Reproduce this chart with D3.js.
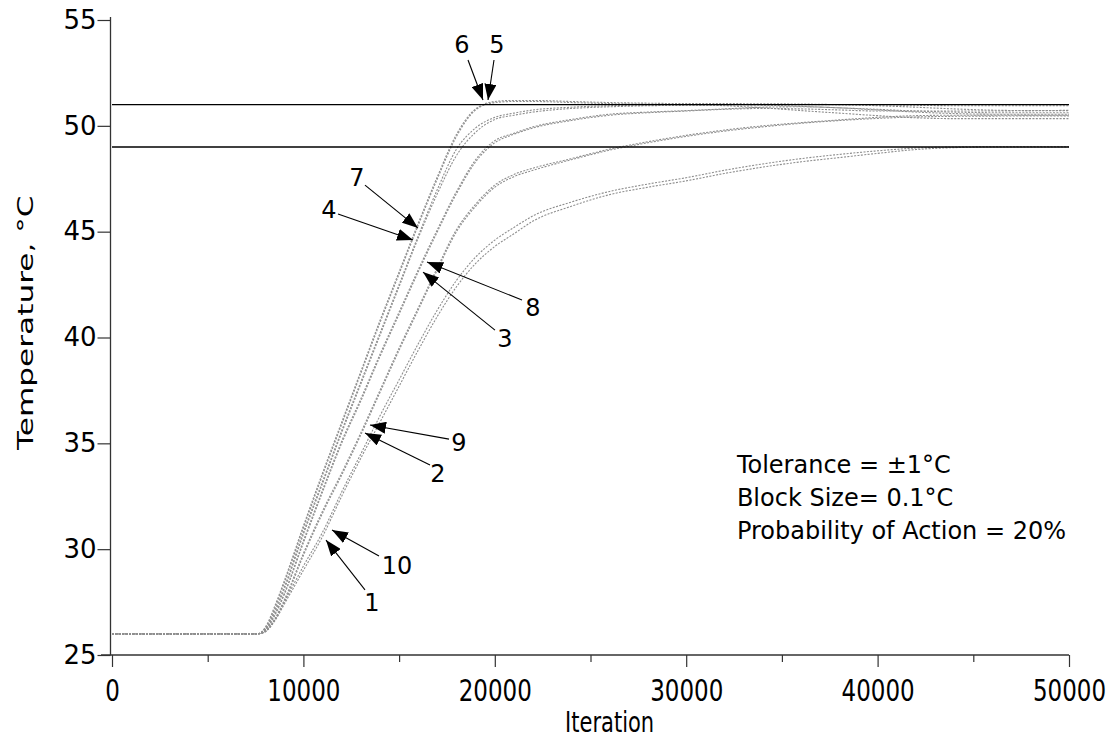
<!DOCTYPE html>
<html>
<head>
<meta charset="utf-8">
<script src="https://cdn.jsdelivr.net/npm/d3@7/dist/d3.min.js"></script>
<style>
  html, body { margin: 0; padding: 0; background: #fff; }
  text { font-family: "DejaVu Sans", sans-serif; fill: #000; }
</style>
</head>
<body>
<svg id="chart" width="1119" height="744"></svg>
<script>
// ---------- data ----------
const iterations = [0, 7600, 8000, 8500, 9000, 10000, 11000, 12000, 13000, 14000, 15000, 16000, 17000, 18000, 19000, 20000, 21000, 22000, 24000, 26000, 28000, 30000, 32000, 34000, 36000, 38000, 40000, 42000, 44000, 46000, 48000, 50000];

const run1  = [26, 26, 26.1, 26.6, 27.4, 29.0, 30.6, 32.5, 34.3, 36.0, 37.7, 39.4, 41.0, 42.4, 43.5, 44.3, 44.9, 45.5, 46.2, 46.75, 47.1, 47.4, 47.75, 48.05, 48.3, 48.5, 48.7, 48.88, 48.97, 49.0, 49.0, 49.0];
const run10 = [26, 26, 26.1, 26.65, 27.5, 29.2, 30.8, 32.7, 34.5, 36.3, 38.0, 39.7, 41.3, 42.7, 43.8, 44.6, 45.2, 45.75, 46.4, 46.9, 47.25, 47.55, 47.9, 48.2, 48.45, 48.65, 48.82, 48.95, 49.0, 49.02, 49.02, 49.02];
const run2  = [26, 26, 26.1, 26.7, 27.6, 29.8, 31.8, 33.6, 35.5, 37.5, 39.5, 41.4, 43.3, 45.1, 46.3, 47.2, 47.7, 48.0, 48.45, 48.9, 49.25, 49.55, 49.8, 50.0, 50.15, 50.28, 50.4, 50.48, 50.5, 50.5, 50.5, 50.5];
const run9  = [26, 26, 26.1, 26.65, 27.5, 29.7, 31.7, 33.5, 35.4, 37.4, 39.4, 41.3, 43.2, 45.0, 46.2, 47.1, 47.6, 47.9, 48.4, 48.85, 49.2, 49.5, 49.75, 49.95, 50.12, 50.25, 50.35, 50.42, 50.45, 50.46, 50.47, 50.47];
const run3  = [26, 26, 26.15, 26.9, 27.9, 30.4, 32.8, 35.1, 37.1, 39.2, 41.2, 43.2, 45.1, 46.9, 48.4, 49.3, 49.65, 49.95, 50.3, 50.55, 50.65, 50.72, 50.8, 50.88, 50.9, 50.85, 50.75, 50.65, 50.58, 50.55, 50.55, 50.55];
const run8  = [26, 26, 26.15, 26.85, 27.85, 30.3, 32.7, 35.0, 37.0, 39.1, 41.1, 43.1, 45.0, 46.8, 48.3, 49.2, 49.6, 49.9, 50.25, 50.5, 50.62, 50.7, 50.78, 50.82, 50.8, 50.75, 50.7, 50.7, 50.7, 50.7, 50.72, 50.73];
const run4  = [26, 26, 26.2, 27.1, 28.2, 30.8, 33.2, 35.6, 37.9, 40.2, 42.5, 44.8, 47.0, 48.9, 49.9, 50.4, 50.6, 50.75, 50.88, 50.95, 50.98, 51.0, 51.0, 50.98, 50.92, 50.85, 50.78, 50.7, 50.65, 50.62, 50.62, 50.62];
const run7  = [26, 26, 26.2, 27.0, 28.1, 30.7, 33.1, 35.5, 37.8, 40.1, 42.4, 44.7, 46.8, 48.6, 49.7, 50.3, 50.5, 50.65, 50.82, 50.9, 50.95, 50.97, 50.99, 51.0, 51.0, 51.0, 50.99, 50.97, 50.95, 50.95, 50.95, 50.95];
const run5  = [26, 26, 26.3, 27.3, 28.5, 31.1, 33.6, 36.0, 38.4, 40.8, 43.1, 45.4, 47.6, 49.6, 50.8, 51.15, 51.2, 51.2, 51.15, 51.1, 51.07, 51.05, 51.05, 51.04, 51.03, 51.0, 50.95, 50.88, 50.8, 50.74, 50.72, 50.72];
const run6  = [26, 26, 26.25, 27.2, 28.4, 31.0, 33.5, 35.9, 38.3, 40.7, 43.0, 45.3, 47.5, 49.5, 50.75, 51.1, 51.15, 51.15, 51.1, 51.05, 51.02, 51.0, 50.95, 50.85, 50.72, 50.6, 50.48, 50.38, 50.34, 50.34, 50.34, 50.34];

const runs = [run1, run2, run3, run4, run5, run6, run7, run8, run9, run10];

const toleranceLines = [49, 51];

const xTicks = [0, 10000, 20000, 30000, 40000, 50000];
const xMinorTicks = [5000, 15000, 25000, 35000, 45000];
const yTicks = [25, 30, 35, 40, 45, 50, 55];

// arrow annotations: label, tip (iteration, temp), tail (iteration, temp), label position (iteration, temp)
const arrowLabels = ["6", "5", "7", "4", "8", "3", "9", "2", "10", "1"];
const arrowTips   = [[19383, 51.22], [19645, 51.22], [15987, 45.17], [15726, 44.61], [16458, 43.57], [16249, 43.09], [13480, 35.87], [13218, 35.49], [11494, 30.91], [11181, 30.43]];
const arrowTails  = [[18600, 53.11], [19958, 53.11], [13218, 47.2], [11808, 45.83], [21421, 41.77], [20010, 40.35], [17607, 35.2], [16614, 33.98], [13950, 29.68], [13218, 28.08]];
const labelPos    = [[18286, 53.87], [20115, 53.87], [12800, 47.58], [11338, 46.07], [21996, 41.44], [20533, 39.98], [18130, 35.06], [17032, 33.6], [14890, 29.25], [13584, 27.5]];

const noteLines = ["Tolerance = \u00b11\u00b0C", "Block Size= 0.1\u00b0C", "Probability of Action = 20%"];

// ---------- drawing ----------
const svg = d3.select("#chart");
const x = d3.scaleLinear().domain([0, 50000]).range([112, 1069]);
const y = d3.scaleLinear().domain([25, 55]).range([655, 20]);

// runs
const line = d3.line()
  .x((d, i) => x(iterations[i]))
  .y(d => y(d))
  .curve(d3.curveMonotoneX);

svg.append("g").selectAll("path")
  .data(runs)
  .join("path")
  .attr("d", line)
  .attr("fill", "none")
  .attr("stroke", "#8e8e8e")
  .attr("stroke-width", 1.1)
  .attr("stroke-dasharray", "2,1.4");

// tolerance lines
svg.append("g").selectAll("line")
  .data(toleranceLines)
  .join("line")
  .attr("x1", x(0)).attr("x2", x(50000))
  .attr("y1", d => y(d)).attr("y2", d => y(d))
  .attr("stroke", "#000").attr("stroke-width", 1.3);

// x axis
const xAxis = svg.append("g").attr("transform", `translate(0,${y(25)})`)
  .call(d3.axisBottom(x).tickValues(xTicks).tickFormat(d3.format("d")).tickSize(12).tickPadding(12));
xAxis.select(".domain").remove();
xAxis.selectAll("line").attr("stroke", "#333").attr("stroke-width", 1.2);
xAxis.selectAll("text")
  .attr("y", 0)
  .attr("dy", "0.71em")
  .attr("transform", "translate(0,25) scale(1,1.3)")
  .style("font-size", "23px");

const xMinor = svg.append("g").attr("transform", `translate(0,${y(25)})`)
  .call(d3.axisBottom(x).tickValues(xMinorTicks).tickFormat("").tickSize(7));
xMinor.select(".domain").remove();
xMinor.selectAll("line").attr("stroke", "#333").attr("stroke-width", 1.2);

svg.append("line")
  .attr("x1", x(0) - 11).attr("x2", x(50000))
  .attr("y1", y(25)).attr("y2", y(25))
  .attr("stroke", "#333").attr("stroke-width", 1.3);

// y axis
const yAxis = svg.append("g").attr("transform", `translate(${x(0) - 1.5},0)`)
  .call(d3.axisLeft(y).tickValues(yTicks).tickSize(13).tickPadding(1));
yAxis.select(".domain").remove();
yAxis.selectAll("line").attr("stroke", "#333").attr("stroke-width", 1.2);
yAxis.selectAll("text").style("font-size", "26px");

svg.append("line")
  .attr("x1", x(0) - 1.5).attr("x2", x(0) - 1.5)
  .attr("y1", y(55) - 3).attr("y2", y(25))
  .attr("stroke", "#333").attr("stroke-width", 1.3);

// axis titles
svg.append("text")
  .attr("transform", `translate(${x(26000)},732) scale(1,1.35)`)
  .attr("text-anchor", "middle")
  .style("font-size", "21px")
  .text("Iteration");

svg.append("text")
  .attr("transform", `translate(33,${y(40.7)}) rotate(-90) scale(1.45,1)`)
  .attr("text-anchor", "middle")
  .style("font-size", "21.5px")
  .text("Temperature, \u00b0C");

// arrows
const defs = svg.append("defs");
defs.append("marker")
  .attr("id", "ah")
  .attr("viewBox", "0 0 16 12")
  .attr("refX", 16).attr("refY", 6)
  .attr("markerWidth", 16).attr("markerHeight", 12)
  .attr("markerUnits", "userSpaceOnUse")
  .attr("orient", "auto")
  .append("path")
  .attr("d", "M0,0 L16,6 L0,12 Z")
  .attr("fill", "#000");

const arrows = svg.append("g");
arrows.selectAll("line")
  .data(arrowTips)
  .join("line")
  .attr("x1", (d, i) => x(arrowTails[i][0]))
  .attr("y1", (d, i) => y(arrowTails[i][1]))
  .attr("x2", d => x(d[0]))
  .attr("y2", d => y(d[1]))
  .attr("stroke", "#000")
  .attr("stroke-width", 1.1)
  .attr("marker-end", "url(#ah)");

arrows.selectAll("text")
  .data(arrowLabels)
  .join("text")
  .attr("x", (d, i) => x(labelPos[i][0]))
  .attr("y", (d, i) => y(labelPos[i][1]))
  .attr("dy", "0.36em")
  .attr("text-anchor", "middle")
  .style("font-size", "24px")
  .text(d => d);

// note
svg.append("g").selectAll("text")
  .data(noteLines)
  .join("text")
  .attr("x", x(32650))
  .attr("y", (d, i) => y(34.0) + i * 33)
  .attr("dy", "0.36em")
  .style("font-size", "24px")
  .text(d => d);
</script>
</body>
</html>
